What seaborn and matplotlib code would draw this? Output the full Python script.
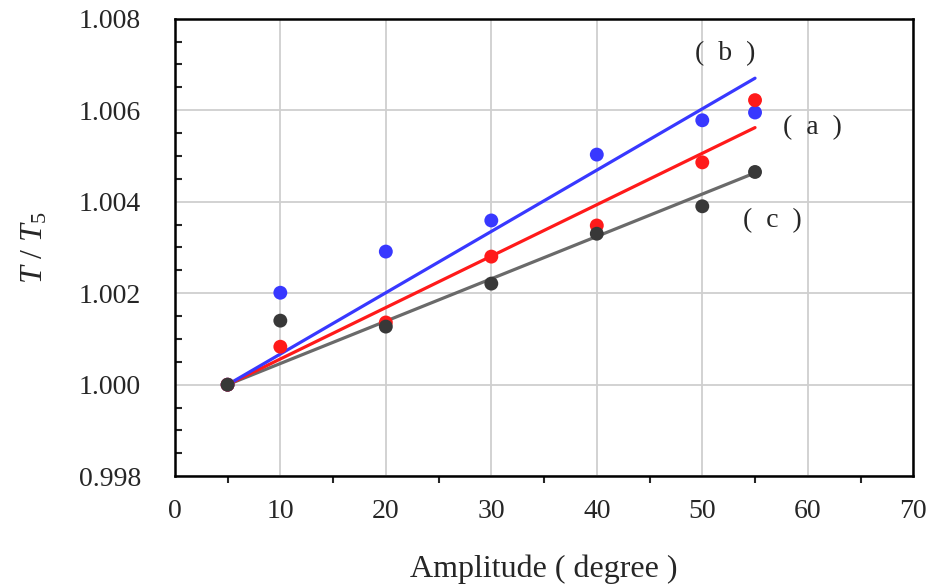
import numpy as np
import pandas as pd
import seaborn as sns
import matplotlib.pyplot as plt
from matplotlib.ticker import MultipleLocator

# measured points, T/T5 vs amplitude
amplitude = [5, 10, 20, 30, 40, 50, 55]
ratio_a = [1.0000, 1.00083, 1.00136, 1.00280, 1.00348, 1.00486, 1.00622]
ratio_b = [1.0000, 1.00201, 1.00291, 1.00359, 1.00503, 1.00578, 1.00595]
ratio_c = [1.0000, 1.00140, 1.00127, 1.00221, 1.00330, 1.00390, 1.00465]

# straight fit lines, start and end values
fit_x = [5, 55]
fit_a = [1.0000, 1.00562]
fit_b = [1.0000, 1.00670]
fit_c = [1.0000, 1.00463]

dot_colors = {'a': '#ff1a1a', 'b': '#3838ff', 'c': '#383838'}
line_colors = {'a': '#ff1a1a', 'b': '#3838ff', 'c': '#6a6a6a'}

pts = pd.DataFrame({
    'amp': amplitude * 3,
    'ratio': ratio_a + ratio_b + ratio_c,
    'set': ['a'] * 7 + ['b'] * 7 + ['c'] * 7,
})
fits = pd.DataFrame({
    'amp': fit_x * 3,
    'ratio': fit_a + fit_b + fit_c,
    'set': ['a'] * 2 + ['b'] * 2 + ['c'] * 2,
})

sns.set_theme(style='white')
plt.rcParams['font.family'] = ['Liberation Serif', 'DejaVu Serif']
plt.rcParams['mathtext.fontset'] = 'custom'
plt.rcParams['mathtext.rm'] = 'Liberation Serif'
plt.rcParams['mathtext.it'] = 'Liberation Serif:italic'

fig = plt.figure(figsize=(9.3, 5.85), dpi=100)
ax = fig.add_axes([0.188, 0.186, 0.794, 0.782])

sns.lineplot(data=fits, x='amp', y='ratio', hue='set', palette=line_colors,
             hue_order=['c', 'a', 'b'], lw=2.3, legend=False, ax=ax, zorder=3)
for s in ['b', 'a', 'c']:
    sns.scatterplot(data=pts[pts['set'] == s], x='amp', y='ratio', color=dot_colors[s],
                    s=100, edgecolor='none', legend=False, ax=ax, zorder=4)

ax.set_xlim(0, 70)
ax.set_ylim(0.998, 1.008)
ax.xaxis.set_major_locator(MultipleLocator(10))
ax.xaxis.set_minor_locator(MultipleLocator(5))
ax.yaxis.set_major_locator(MultipleLocator(0.002))
ax.yaxis.set_minor_locator(MultipleLocator(0.0005))
ax.yaxis.set_major_formatter(plt.FormatStrFormatter('%.3f'))
ax.grid(True, which='major', color='#cfcfcf', lw=1.3)
ax.set_axisbelow(True)

ax.tick_params(which='major', direction='inout', length=9, width=1.5, labelsize=20)
ax.tick_params(axis='x', which='major', pad=12)
ax.tick_params(axis='y', which='major', pad=20)
ax.tick_params(axis='x', which='minor', direction='out', length=5, width=1.5, bottom=True)
ax.tick_params(axis='y', which='minor', direction='in', length=5, width=1.5, left=True)
for sp in ax.spines.values():
    sp.set_color('black')
    sp.set_linewidth(1.8)

ax.set_xlabel('Amplitude ( degree )', fontsize=23, labelpad=22)
ax.set_ylabel(r'$T$ / $T_{\mathrm{5}}$', fontsize=23, labelpad=21)

ax.text(52.2, 1.00724, '(  b  )', fontsize=20, ha='center', va='center')
ax.text(60.4, 1.00561, '(  a  )', fontsize=20, ha='center', va='center')
ax.text(56.6, 1.00359, '(  c  )', fontsize=20, ha='center', va='center')

fig.savefig('out.png', dpi=100)
